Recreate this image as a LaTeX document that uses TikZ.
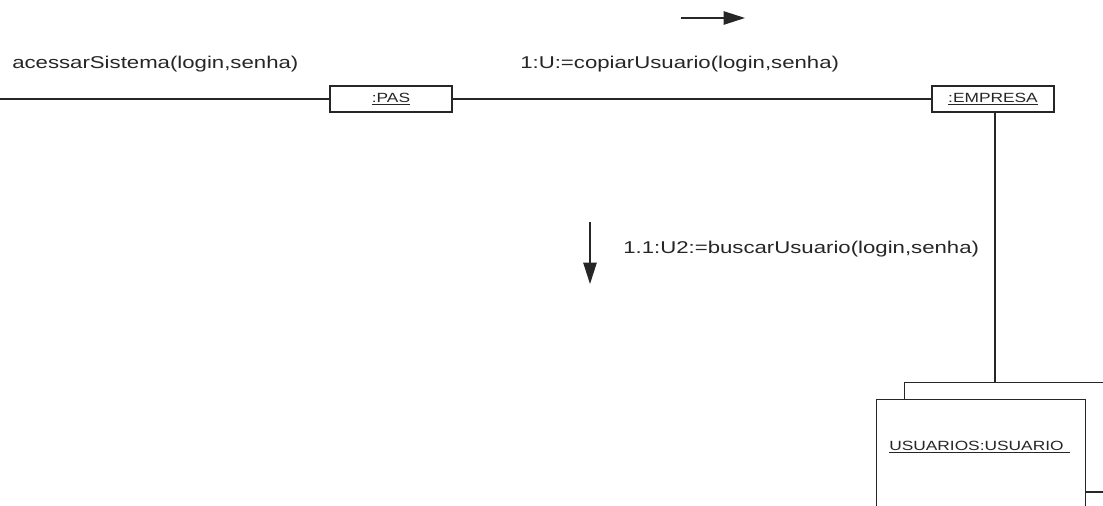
\documentclass[tikz,border=0pt]{standalone}
\usepackage{fontspec}
\usepackage{graphicx}
\setmainfont{Liberation Sans}
\newfontfamily\widefont[FakeStretch=1.3]{Liberation Sans}
\usetikzlibrary{arrows.meta}
\tikzset{
  conn/.style={line width=1.1pt, draw=black!85},
  obj/.style={draw=black!85, line width=1.1pt, fill=white, rectangle, inner sep=0pt},
  objtxt/.style={font=\widefont\fontsize{10pt}{12pt}\selectfont, text=black!85},
  msg/.style={font=\widefont\fontsize{12.8pt}{15pt}\selectfont, text=black!85, inner sep=0pt, anchor=base west},
  msgarrow/.style={line width=1.1pt, draw=black!85, -{Triangle[length=16pt, width=10pt]}}
}
\begin{document}
\begin{tikzpicture}[x=0.75pt,y=-0.75pt]
\useasboundingbox[fill=white] (0,0) rectangle (1103,506);
\clip (0,0) rectangle (1103,506);

% objects
\node[obj, minimum width=91.5pt, minimum height=19.5pt, objtxt] (pas) at (391,99) {\underline{:PAS}};
\node[obj, minimum width=91.5pt, minimum height=19.5pt, objtxt] (emp) at (993,99) {\underline{:EMPRESA}};

% multi-object
\node[obj, anchor=north west, minimum width=180pt, minimum height=150pt] (back) at (904,382) {};
\node[obj, anchor=north west, minimum width=156.75pt, minimum height=120pt] (usu) at (876,399) {};
\node[objtxt, anchor=base west, inner sep=0pt] (usulbl) at (889,450) {\underline{USUARIOS:USUARIO\hspace{0.5em}}};

% connectors
\coordinate (left) at (0,99);
\coordinate (rgt) at (1103,492);
\draw[conn] (left) -- (pas.west);
\draw[conn] (pas.east) -- (emp.west);
\draw[conn] ([xshift=1.5pt]emp.south) -- ([xshift=1.5pt]emp.south |- back.north);
\draw[conn] (usu.east |- rgt) -- (rgt);

% messages
\node[msg] (m0) at (12,69) {acessarSistema(login,senha)};
\node[msg] (m1) at (520,69) {1:U:=copiarUsuario(login,senha)};
\node[msg] (m2) at (623,253) {1.1:U2:=buscarUsuario(login,senha)};

\coordinate (a1s) at (681,18);
\coordinate (a1e) at (745,18);
\draw[msgarrow] (a1s) -- (a1e);
\coordinate (a2s) at (590,222);
\coordinate (a2e) at (590,284);
\draw[msgarrow] (a2s) -- (a2e);
\end{tikzpicture}
\end{document}
